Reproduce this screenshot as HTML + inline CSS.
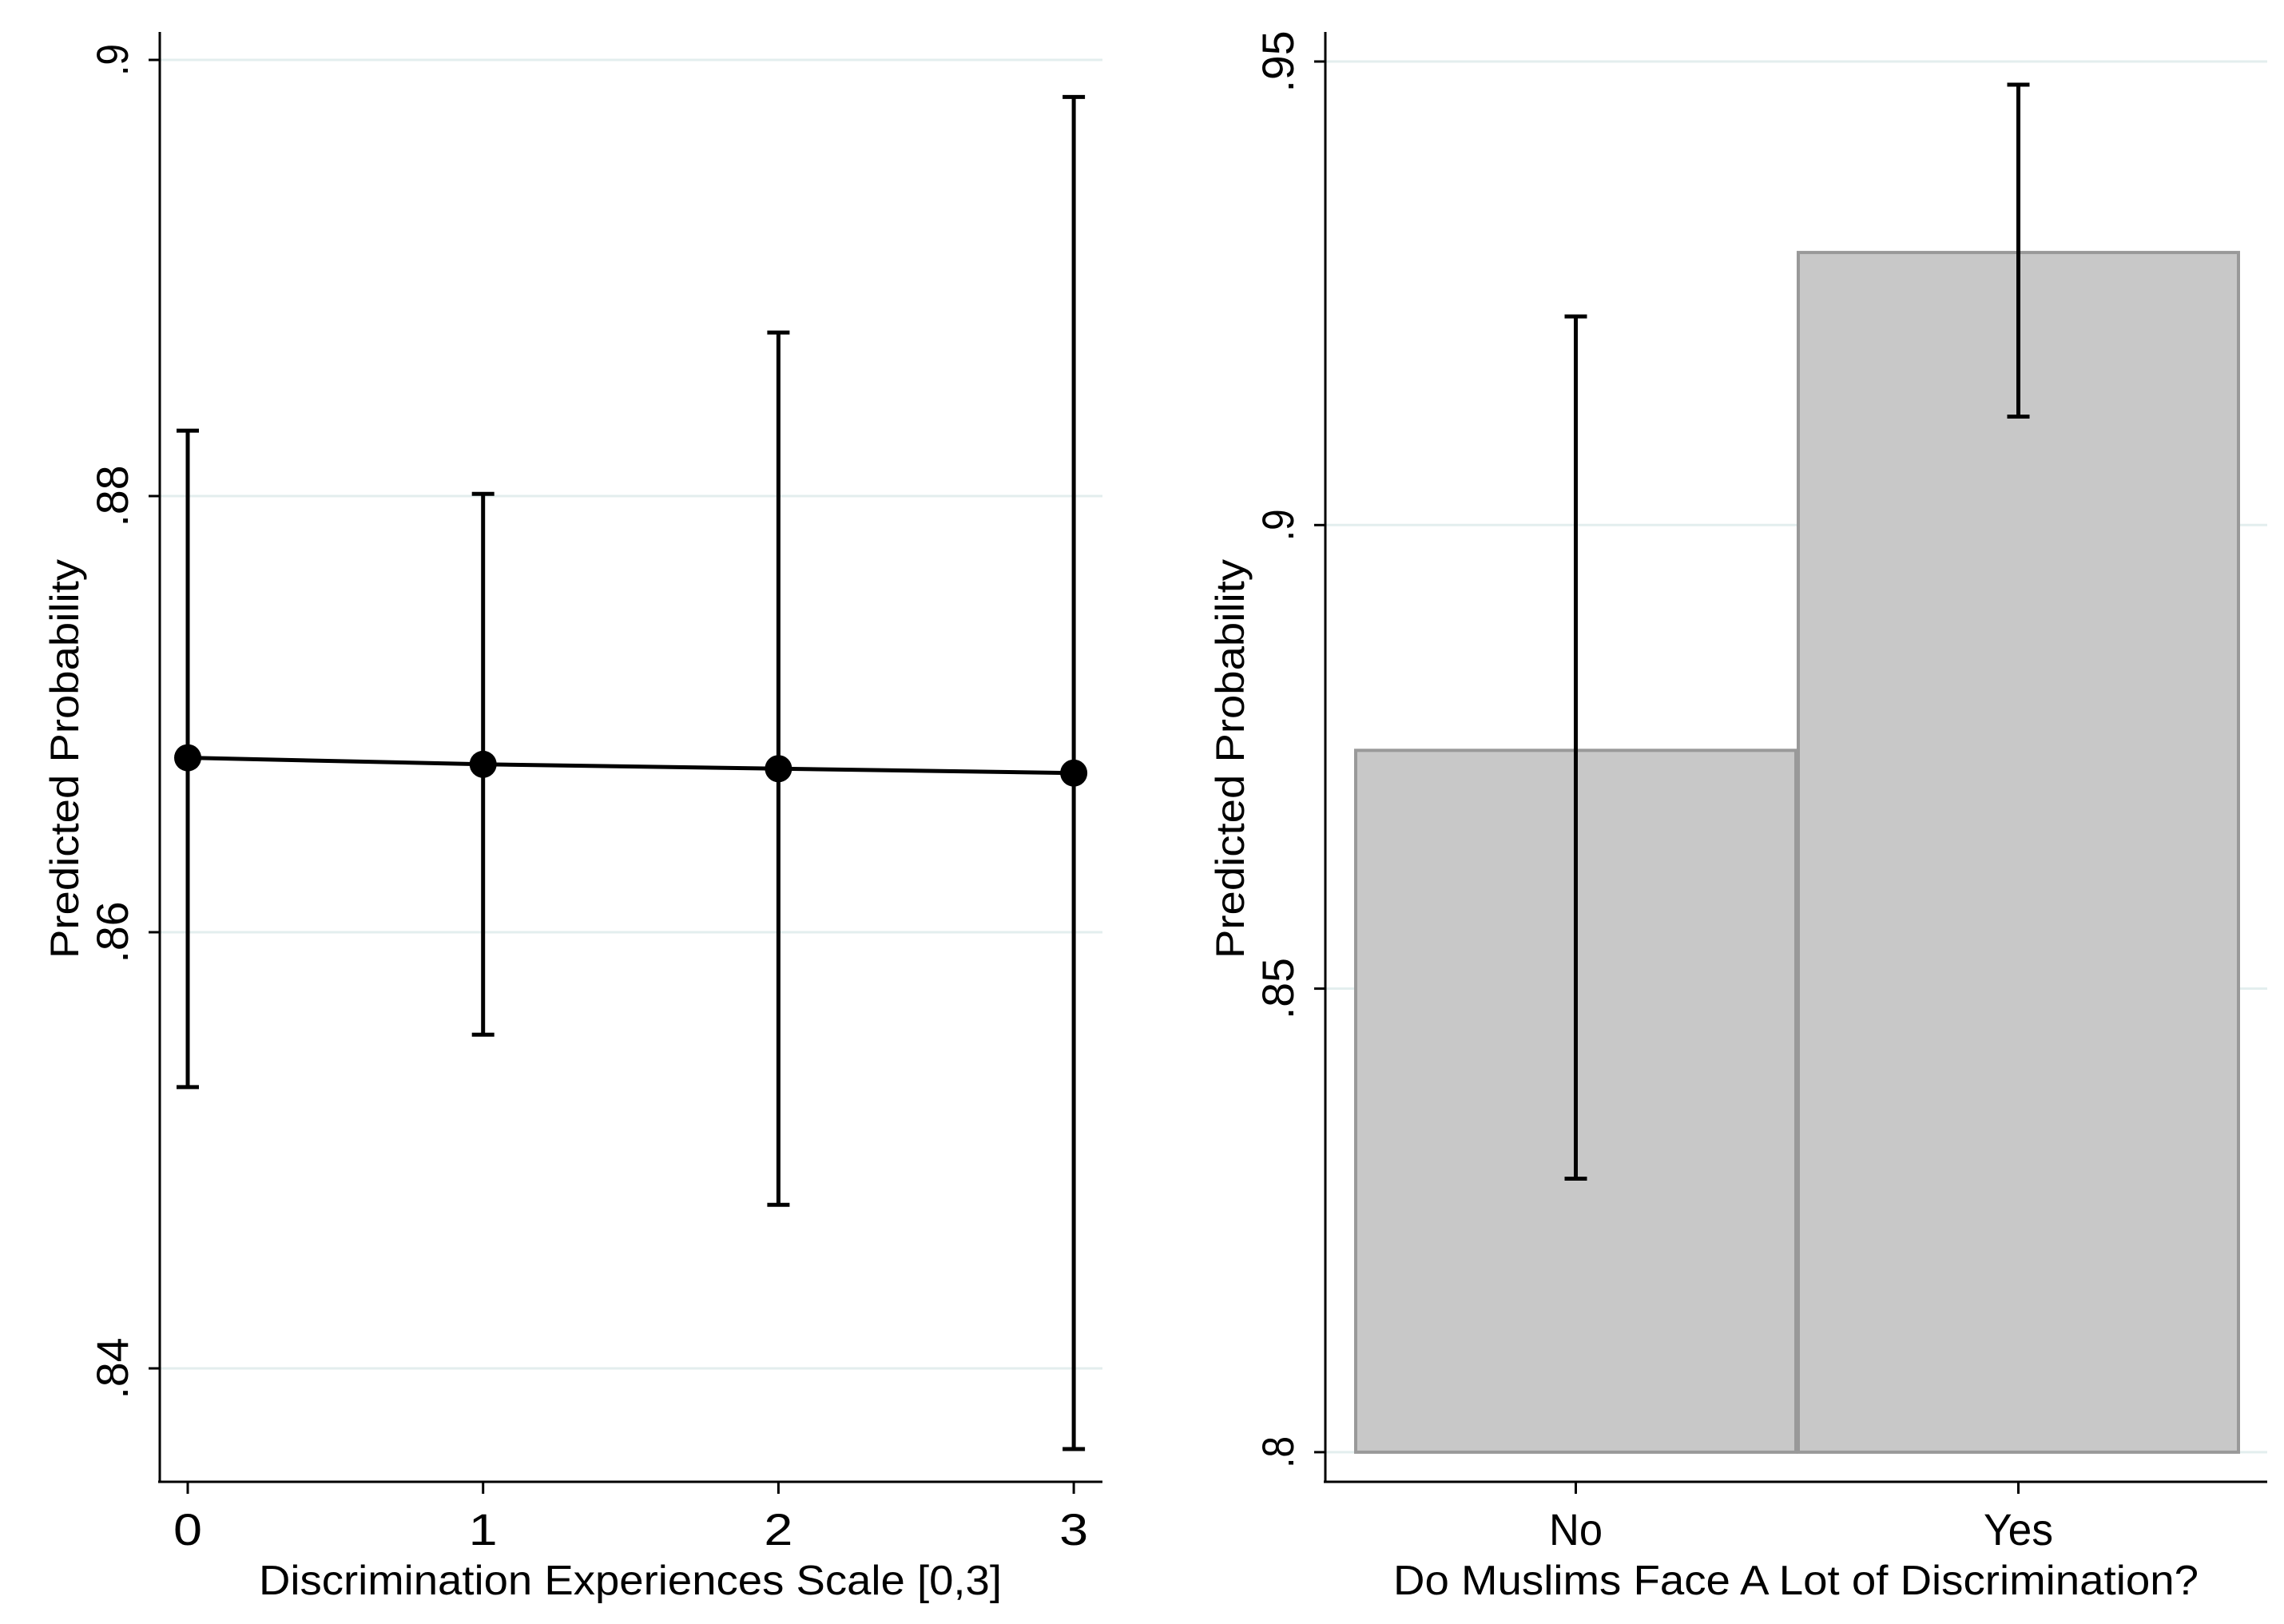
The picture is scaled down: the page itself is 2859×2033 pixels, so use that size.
<!DOCTYPE html>
<html><head><meta charset="utf-8"><style>
html,body{margin:0;padding:0;background:#fff}
svg{display:block;font-family:"Liberation Sans",Arial,sans-serif}
</style></head><body>
<svg id="c" width="2859" height="2033" viewBox="0 0 2859 2033" xmlns="http://www.w3.org/2000/svg"></svg>
<script>
// Left panel data
const leftCats = [0, 1, 2, 3];
const leftVals = [0.868, 0.8677, 0.8675, 0.8673];
const leftLo = [0.8529, 0.8553, 0.8475, 0.8363];
const leftHi = [0.8830, 0.8801, 0.8875, 0.8983];
const leftTicks = [0.84, 0.86, 0.88, 0.9];
const leftTickLabels = [".84", ".86", ".88", ".9"];
// Right panel data
const rightCats = ["No", "Yes"];
const rightVals = [0.8757, 0.9294];
const rightLo = [0.8295, 0.9117];
const rightHi = [0.9225, 0.9475];
const rightTicks = [0.8, 0.85, 0.9, 0.95];
const rightTickLabels = [".8", ".85", ".9", ".95"];

const NS = "http://www.w3.org/2000/svg";
const svg = document.getElementById('c');
function mk(tag, attrs, parent, text){
  const e = document.createElementNS(NS, tag);
  for (const k in attrs) e.setAttribute(k, attrs[k]);
  if (text !== undefined) e.textContent = text;
  (parent || svg).appendChild(e);
  return e;
}
const tlen = s => s.length <= 2 ? 40 : 77;

// ---- Left panel ----
const gL = mk('g', {});


const lY = v => 75 + (0.9 - v) / 0.02 * 546;
const lX = i => 235 + i * 369.7;
leftTicks.forEach((t, i) => {
  const y = lY(t);
  const gl = mk('line', {x1: 200, x2: 1380, y1: y, y2: y, stroke: '#e3eeee', 'stroke-width': 3}, gL);
  
  
  mk('line', {x1: 186, x2: 200, y1: y, y2: y, stroke: '#000', 'stroke-width': 3}, gL);
  const tl = mk('text', {x: 0, y: 0, transform: `translate(160,${y}) rotate(-90)`, 'text-anchor': 'middle', 'font-size': 56, textLength: tlen(leftTickLabels[i]), lengthAdjust: 'spacingAndGlyphs'}, gL, leftTickLabels[i]);
  
  
});
mk('line', {x1: 200, x2: 200, y1: 40, y2: 1856, stroke: '#000', 'stroke-width': 3}, gL);
mk('line', {x1: 198, x2: 1380, y1: 1855, y2: 1855, stroke: '#000', 'stroke-width': 3}, gL);
leftCats.forEach((c, i) => {
  const x = lX(i);
  mk('line', {x1: x, x2: x, y1: 1855, y2: 1870, stroke: '#000', 'stroke-width': 3}, gL);
  const tl = mk('text', {x: x, y: 1934, 'text-anchor': 'middle', 'font-size': 56, textLength: 36, lengthAdjust: 'spacingAndGlyphs'}, gL, String(c));
  
  
});
const yt = mk('text', {transform: 'translate(98,950) rotate(-90)', 'text-anchor': 'middle', 'font-size': 50, textLength: 500, lengthAdjust: 'spacingAndGlyphs'}, gL, 'Predicted Probability');


const xt = mk('text', {x: 789, y: 1996, 'text-anchor': 'middle', 'font-size': 52, textLength: 930, lengthAdjust: 'spacingAndGlyphs'}, gL, 'Discrimination Experiences Scale [0,3]');


leftCats.forEach((c, i) => {
  const x = lX(i);
  const eb = mk('path', {d: `M${x},${lY(leftHi[i])}V${lY(leftLo[i])}M${x-14},${lY(leftHi[i])}H${x+14}M${x-14},${lY(leftLo[i])}H${x+14}`, stroke: '#000', 'stroke-width': 5, fill: 'none'}, gL);
  
  
});
const pts = leftCats.map((c, i) => `${lX(i)},${lY(leftVals[i])}`).join(' ');
const ln = mk('polyline', {points: pts, stroke: '#000', 'stroke-width': 5, fill: 'none'}, gL);


leftCats.forEach((c, i) => {
  const p = mk('circle', {cx: lX(i), cy: lY(leftVals[i]), r: 17, fill: '#000'}, gL);
  
  
});

// ---- Right panel ----
const gR = mk('g', {});


const rY = v => 77 + (0.95 - v) / 0.05 * 580.3;
const barL = [1697, 2251];
const barW = 551;
rightTicks.forEach((t, i) => {
  const y = rY(t);
  const gl = mk('line', {x1: 1659, x2: 2838, y1: y, y2: y, stroke: '#e3eeee', 'stroke-width': 3}, gR);
  
  
  mk('line', {x1: 1645, x2: 1659, y1: y, y2: y, stroke: '#000', 'stroke-width': 3}, gR);
  const tl = mk('text', {transform: `translate(1619,${y}) rotate(-90)`, 'text-anchor': 'middle', 'font-size': 56, textLength: tlen(rightTickLabels[i]), lengthAdjust: 'spacingAndGlyphs'}, gR, rightTickLabels[i]);
  
  
});
rightCats.forEach((c, i) => {
  const b = mk('rect', {x: barL[i], y: rY(rightVals[i]), width: barW, height: rY(0.8) - rY(rightVals[i]), fill: '#c8c8c8', stroke: '#999', 'stroke-width': 4}, gR);
  
  
});
mk('line', {x1: 1659, x2: 1659, y1: 40, y2: 1856, stroke: '#000', 'stroke-width': 3}, gR);
mk('line', {x1: 1657, x2: 2838, y1: 1855, y2: 1855, stroke: '#000', 'stroke-width': 3}, gR);
rightCats.forEach((c, i) => {
  const x = barL[i] + barW / 2;
  mk('line', {x1: x, x2: x, y1: 1855, y2: 1870, stroke: '#000', 'stroke-width': 3}, gR);
  const tl = mk('text', {x: x, y: 1934, 'text-anchor': 'middle', 'font-size': 56, textLength: c.length === 2 ? 67 : 87, lengthAdjust: 'spacingAndGlyphs'}, gR, c);
  
  
  const eb = mk('path', {d: `M${x},${rY(rightHi[i])}V${rY(rightLo[i])}M${x-14},${rY(rightHi[i])}H${x+14}M${x-14},${rY(rightLo[i])}H${x+14}`, stroke: '#000', 'stroke-width': 5, fill: 'none'}, gR);
  
  
});
const yt2 = mk('text', {transform: 'translate(1557,950) rotate(-90)', 'text-anchor': 'middle', 'font-size': 50, textLength: 500, lengthAdjust: 'spacingAndGlyphs'}, gR, 'Predicted Probability');


const xt2 = mk('text', {x: 2248, y: 1996, 'text-anchor': 'middle', 'font-size': 52, textLength: 1008, lengthAdjust: 'spacingAndGlyphs'}, gR, 'Do Muslims Face A Lot of Discrimination?');


</script>
</body></html>
